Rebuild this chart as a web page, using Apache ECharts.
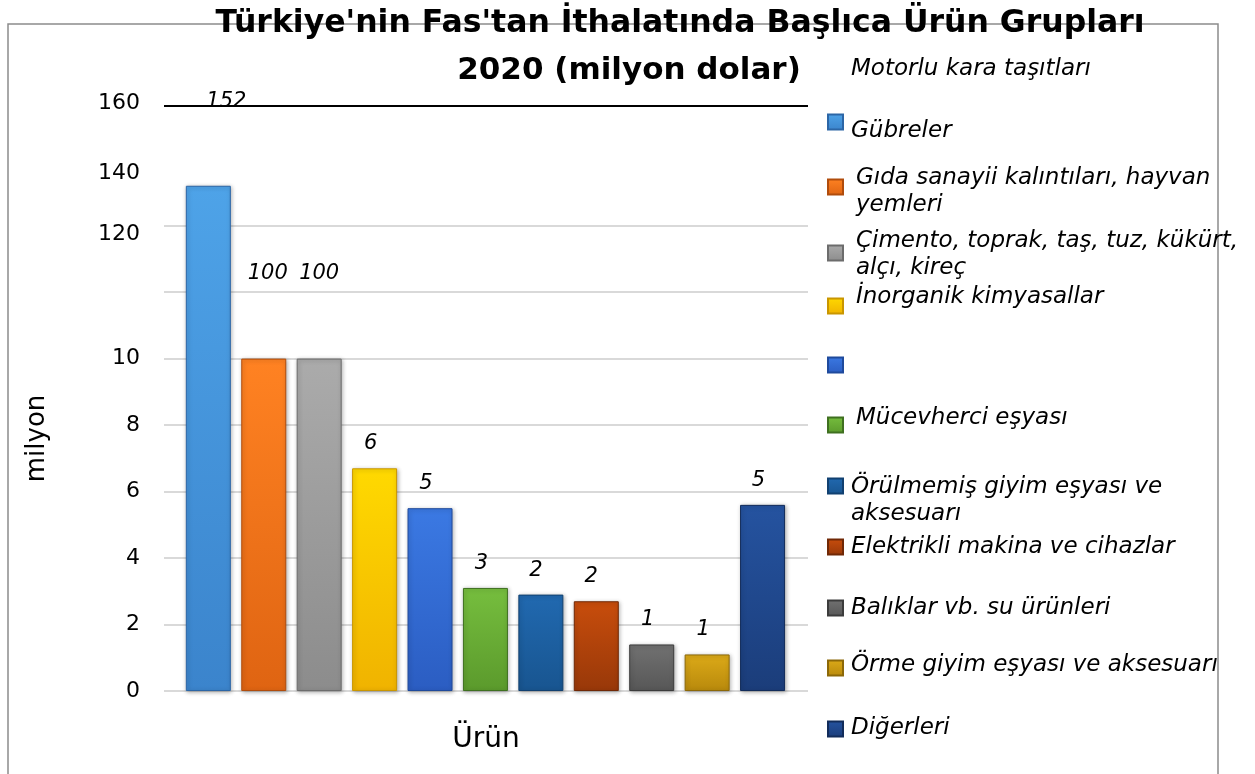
<!DOCTYPE html>
<html>
<head>
<meta charset="utf-8">
<title>Türkiye'nin Fas'tan İthalatında Başlıca Ürün Grupları</title>
<script src="https://cdn.jsdelivr.net/npm/echarts@6/dist/echarts.min.js"></script>
<style>
    html, body { margin: 0; padding: 0; background: #fff; }
    #chart { width: 1255px; height: 774px; }
</style>
</head>
<body>
<div id="chart"></div>
<script>
    // ürün grupları, çubuk sırasıyla
    var urunler = [
        'Gübreler',
        'Gıda sanayii kalıntıları, hayvan yemleri',
        'Çimento, toprak, taş, tuz, kükürt, alçı, kireç',
        'İnorganik kimyasallar',
        'Motorlu kara taşıtları',
        'Mücevherci eşyası',
        'Örülmemiş giyim eşyası ve aksesuarı',
        'Elektrikli makina ve cihazlar',
        'Balıklar vb. su ürünleri',
        'Örme giyim eşyası ve aksesuarı',
        'Diğerleri'
    ];
    // çubuk üstündeki değerler (milyon dolar)
    var degerler = [152, 100, 100, 6, 5, 3, 2, 2, 1, 1, 5];
    // çubuk boyları, kırık eksende okunduğu gibi
    var yukseklikler = [15.2, 10, 10, 6.7, 5.5, 3.1, 2.9, 2.7, 1.4, 1.1, 5.6];
    // y ekseni tikleri ve yazıları
    var yTikler = [0, 2, 4, 6, 8, 10, 12, 14, 16, 17.6];
    var yEtiketler = ['0', '2', '4', '6', '8', '10', '', '120', '140', '160'];
    // lejant sırası (yukarıdan aşağı) ve yazıları
    var lejantAdlar = [
        'Motorlu kara taşıtları', 'Gübreler', 'Gıda sanayii kalıntıları, hayvan yemleri',
        'Çimento, toprak, taş, tuz, kükürt, alçı, kireç', 'İnorganik kimyasallar',
        'Motorlu kara taşıtları', 'Mücevherci eşyası', 'Örülmemiş giyim eşyası ve aksesuarı',
        'Elektrikli makina ve cihazlar', 'Balıklar vb. su ürünleri',
        'Örme giyim eşyası ve aksesuarı', 'Diğerleri'
    ];
    var lejantMetinler = [
        'Motorlu kara taşıtları', 'Gübreler', 'Gıda sanayii kalıntıları, hayvan\nyemleri',
        'Çimento, toprak, taş, tuz, kükürt,\nalçı, kireç', 'İnorganik kimyasallar',
        ' ', 'Mücevherci eşyası', 'Örülmemiş giyim eşyası ve\naksesuarı',
        'Elektrikli makina ve cihazlar', 'Balıklar vb. su ürünleri',
        'Örme giyim eşyası ve aksesuarı', 'Diğerleri'
    ];

    // renkler: [üst, alt, kenar]
    var renkler = [
        ['#4ea3e8', '#3b84cc', '#2c66a6'],
        ['#ff8222', '#df6412', '#b04c0c'],
        ['#ababab', '#8c8c8c', '#6c6c6c'],
        ['#ffd900', '#f0b300', '#c99600'],
        ['#3b79e3', '#2b5dc2', '#1f4a9c'],
        ['#76be3e', '#5b9a2c', '#3f7020'],
        ['#2169b0', '#185590', '#114070'],
        ['#c84d0c', '#983809', '#702806'],
        ['#717171', '#575757', '#3c3c3c'],
        ['#dcaa18', '#b8890c', '#8c6808'],
        ['#2553a0', '#1b3d7a', '#122c5a']
    ];
    // etiket kaydırmaları (çubuk sırasıyla)
    var etiketKayma = [[18, -60], [4, -61], [0, -61], [-4, 0], [-4, 0], [-4, 0], [-5, 0], [-5, 0], [-4, 0], [-4, 0], [-4, 0]];
    // lejant yerleşimi: [işaret y, yazı kayması, yazı sol boşluk, işaret gizli]
    var lejantYer = [
        [69, 0, 3, true], [124, 9, 3], [189, 5, 8], [255, 2, 8], [308, -9, 8], [365, 0, 3],
        [427, -7, 8], [488, 15, 3], [547, 0, 3], [608, 0, 3], [670, -3, 3], [730, -1, 3]
    ];
    // y etiketi kaydırma stilleri
    var yKaydir = {'120': 'a', '140': 'b', '160': 'c'};

    var font = 'DejaVu Sans';

    function dolgu(r) {
        return new echarts.graphic.LinearGradient(0, 0, 0, 1, [
            {offset: 0, color: r[0]},
            {offset: 1, color: r[1]}
        ]);
    }

    var seriler = urunler.map(function (ad, i) {
        var s = {
            name: ad,
            type: 'bar',
            barWidth: 45,
            barGap: '-100%',
            data: [[i, yukseklikler[i]]],
            itemStyle: {
                color: dolgu(renkler[i]),
                borderColor: renkler[i][2],
                borderWidth: 1,
                shadowBlur: 4,
                shadowColor: 'rgba(0,0,0,0.3)',
                shadowOffsetX: 1,
                shadowOffsetY: 1
            },
            label: {
                show: true,
                position: 'top',
                distance: 14,
                offset: etiketKayma[i],
                formatter: function () { return String(degerler[i]); },
                fontFamily: font,
                fontStyle: 'italic',
                fontSize: 21,
                color: '#000'
            }
        };
        if (i === 0) {
            s.markLine = {
                silent: true,
                symbol: 'none',
                label: {show: false},
                lineStyle: {color: '#000', width: 2, type: 'solid'},
                data: [{yAxis: 17.6}]
            };
        }
        return s;
    });

    var lejantlar = lejantAdlar.map(function (ad, k) {
        var yer = lejantYer[k];
        var kayma = yer[1];
        var satirlar = lejantMetinler[k].split('\n');
        // her satıra aynı dolgu: yazı bloğu işarete göre kayar
        var stil = {
            fontFamily: font, fontStyle: 'italic', fontSize: 23, lineHeight: 27, color: '#000',
            padding: [Math.max(0, 2 * kayma), 0, Math.max(0, -2 * kayma), yer[2]]
        };
        var metin = satirlar.map(function (satir) {
            return '{s|' + satir + '}';
        }).join('\n');
        var h = satirlar.length * 27 + Math.abs(2 * kayma);
        return {
            data: [ad],
            orient: 'vertical',
            left: 827,
            top: yer[0] - h / 2,
            padding: 0,
            itemWidth: 15,
            itemHeight: 15,
            icon: 'rect',
            selectedMode: false,
            itemStyle: yer[3] ? {opacity: 0} : {},
            formatter: function () { return metin; },
            textStyle: {
                fontFamily: font,
                fontStyle: 'italic',
                fontSize: 23,
                lineHeight: 27,
                color: '#000',
                rich: {s: stil}
            }
        };
    });

    var izgaraRenk = yTikler.map(function (t, i) {
        return i >= 8 ? 'rgba(0,0,0,0)' : '#d9d9d9';
    });

    var chart = echarts.init(document.getElementById('chart'));
    chart.setOption({
        backgroundColor: '#fff',
        animation: false,
        title: [
            {
                text: "Türkiye'nin Fas'tan İthalatında Başlıca Ürün Grupları",
                left: 680,
                top: 8,
                padding: 0,
                textAlign: 'center',
                textStyle: {fontFamily: font, fontWeight: 'bold', fontSize: 31.5, lineHeight: 31, color: '#000'}
            },
            {
                text: '2020 (milyon dolar)',
                left: 629,
                top: 55,
                padding: 0,
                textAlign: 'center',
                textStyle: {fontFamily: font, fontWeight: 'bold', fontSize: 31, lineHeight: 31, color: '#000'}
            }
        ],
        graphic: [{
            type: 'rect',
            z: -10,
            shape: {x: 8, y: 24, width: 1210, height: 800},
            style: {fill: 'none', stroke: '#8c8c8c', lineWidth: 1.5}
        }],
        legend: lejantlar,
        grid: {left: 164, right: 447, top: 106, bottom: 83},
        xAxis: {
            type: 'value',
            min: -0.8,
            max: 10.82,
            axisLine: {show: false},
            axisTick: {show: false},
            axisLabel: {show: false},
            splitLine: {show: false},
            name: 'Ürün',
            nameLocation: 'middle',
            nameGap: 35,
            nameTextStyle: {fontFamily: font, fontSize: 28, color: '#000'}
        },
        yAxis: {
            type: 'value',
            min: 0,
            max: 17.6,
            interval: 2,
            axisLine: {show: false},
            axisTick: {show: false},
            splitLine: {lineStyle: {color: izgaraRenk, width: 2}},
            axisLabel: {
                margin: 24,
                fontFamily: font,
                fontSize: 22,
                color: '#000',
                formatter: function (v) {
                    for (var i = 0; i < yTikler.length; i++) {
                        if (Math.abs(yTikler[i] - v) < 1e-6) {
                            var t = yEtiketler[i];
                            return yKaydir[t] ? '{' + yKaydir[t] + '|' + t + '}' : t;
                        }
                    }
                    return '';
                },
                rich: {
                    a: {fontFamily: font, fontSize: 22, color: '#000', padding: [18, 0, 0, 0]},
                    b: {fontFamily: font, fontSize: 22, color: '#000', padding: [28, 0, 0, 0]},
                    c: {fontFamily: font, fontSize: 22, color: '#000', padding: [0, 0, 5, 0]}
                }
            },
            name: 'milyon',
            nameLocation: 'middle',
            nameGap: 114,
            nameRotate: 90,
            nameTextStyle: {fontFamily: font, fontSize: 26, color: '#000', padding: [0, 80, 0, 0]}
        },
        series: seriler
    });
</script>
</body>
</html>
